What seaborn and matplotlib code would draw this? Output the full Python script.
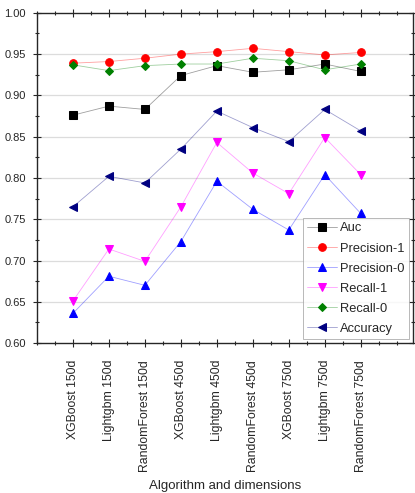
import numpy as np
import pandas as pd
import seaborn as sns
import matplotlib.pyplot as plt
from matplotlib.ticker import MultipleLocator

# Algorithms / dimensions on the x axis
models = ["XGBoost 150d", "Lightgbm 150d", "RandomForest 150d",
          "XGBoost 450d", "Lightgbm 450d", "RandomForest 450d",
          "XGBoost 750d", "Lightgbm 750d", "RandomForest 750d"]

# Metric values
auc = [0.876, 0.887, 0.883, 0.924, 0.936, 0.928, 0.931, 0.938, 0.929]
precision_1 = [0.939, 0.941, 0.945, 0.950, 0.953, 0.957, 0.953, 0.949, 0.952]
precision_0 = [0.636, 0.681, 0.670, 0.723, 0.796, 0.762, 0.737, 0.804, 0.757]
recall_1 = [0.651, 0.714, 0.699, 0.765, 0.843, 0.806, 0.781, 0.849, 0.804]
recall_0 = [0.937, 0.930, 0.936, 0.938, 0.938, 0.945, 0.942, 0.931, 0.938]
accuracy = [0.765, 0.802, 0.794, 0.835, 0.881, 0.861, 0.844, 0.883, 0.857]

series = {
    "Auc": (auc, "s", "#000000"),
    "Precision-1": (precision_1, "o", "#ff0000"),
    "Precision-0": (precision_0, "^", "#0000ff"),
    "Recall-1": (recall_1, "v", "#ff00ff"),
    "Recall-0": (recall_0, "D", "#008000"),
    "Accuracy": (accuracy, "<", "#000080"),
}

sns.set_style("ticks")
plt.rcParams['font.family'] = ['Liberation Sans', 'DejaVu Sans']

fig = plt.figure(figsize=(4.15, 4.93), dpi=100)
ax = fig.add_axes([0.089, 0.304, 0.906, 0.670])

x = np.arange(1, len(models) + 1)
for name, (vals, mk, col) in series.items():
    sns.lineplot(x=x, y=vals, ax=ax, label=name, color=col, marker=mk,
                 markersize=5.5 if mk != "D" else 4.5, linewidth=0.6,
                 markeredgecolor=col, markerfacecolor=col)
    # fade the connecting lines like in the reference
    ax.lines[-1].set_color(col + "60")
    ax.lines[-1].set_markerfacecolor(col)
    ax.lines[-1].set_markeredgecolor(col)

ax.set_xlim(0, 10.45)
ax.set_ylim(0.60, 1.00)
ax.set_xticks(x)
ax.set_xticklabels(models, rotation=90, fontsize=8.8)
ax.xaxis.set_minor_locator(MultipleLocator(0.5))
ax.yaxis.set_major_locator(MultipleLocator(0.05))
ax.yaxis.set_minor_locator(MultipleLocator(0.025))
ax.set_yticklabels([f"{v:.2f}" for v in ax.get_yticks()], fontsize=8)
ax.tick_params(which='both', direction='inout', top=True, right=True,
               labeltop=False, labelright=False, width=0.8)
ax.tick_params(which='major', length=6)
ax.tick_params(which='minor', length=3.5)
ax.tick_params(axis='x', which='major', pad=9)
ax.tick_params(axis='y', which='major', pad=5)
for s in ax.spines.values():
    s.set_linewidth(1.0)

for v in np.arange(0.65, 1.0, 0.05):
    ax.axhline(v, color="#dcdcdc", linewidth=0.9, zorder=0)

ax.set_xlabel("Algorithm and dimensions", fontsize=9.5, labelpad=6)
ax.set_ylabel("")

leg = ax.legend(loc="lower right", fontsize=9.3, frameon=True, fancybox=False,
                edgecolor="#999999", borderpad=0.35, labelspacing=0.62,
                handlelength=2.3, handletextpad=0.25, borderaxespad=0.3)
leg.get_frame().set_linewidth(0.6)

fig.savefig("out.png", dpi=100)
